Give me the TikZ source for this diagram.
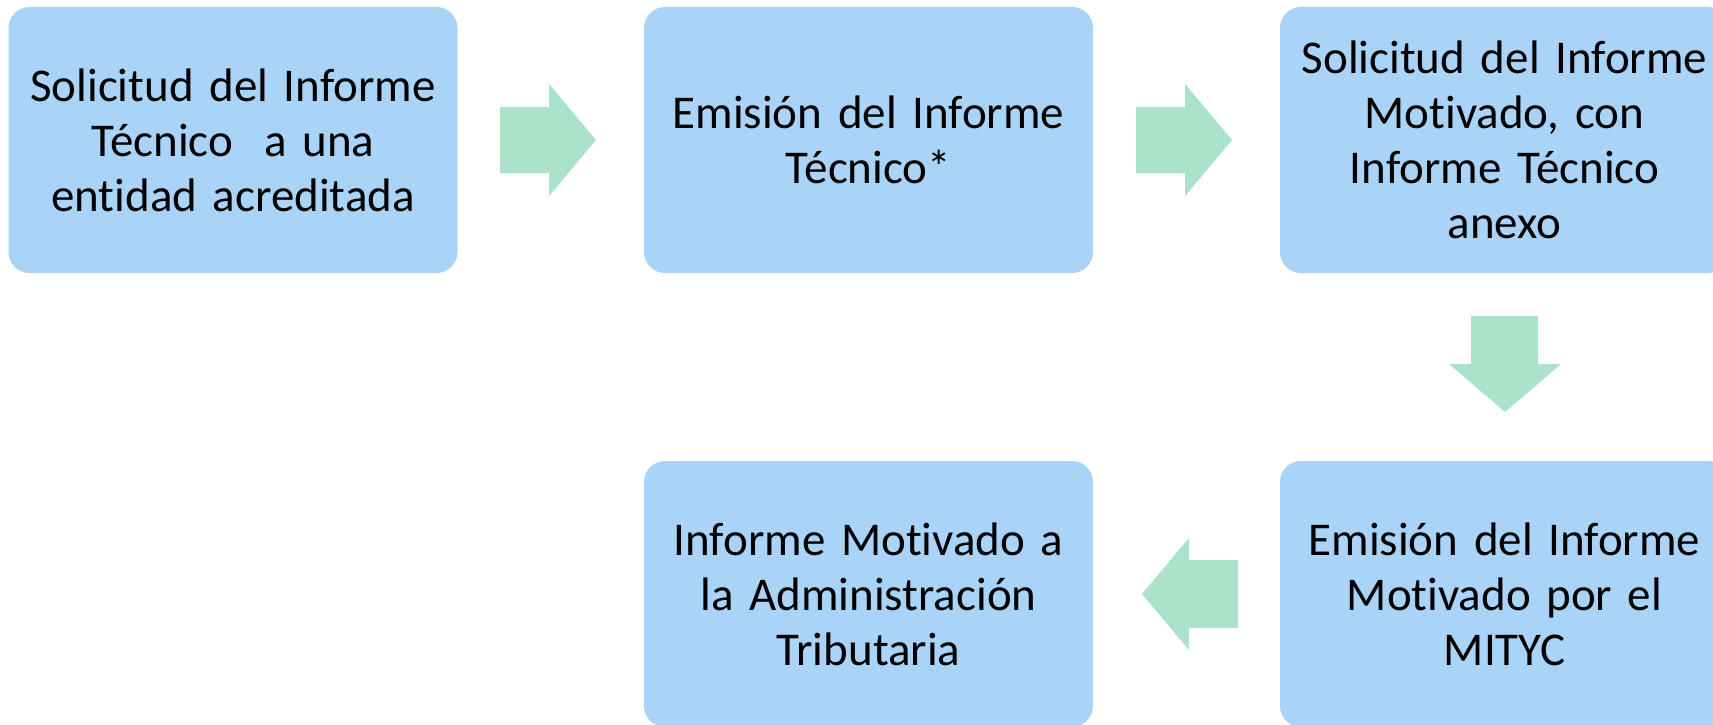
\documentclass[tikz,border=0pt]{standalone}
\usepackage{fontspec}
\setmainfont{Carlito}[Ligatures={NoCommon}]
\definecolor{boxblue}{RGB}{169,212,247}
\definecolor{arrowgreen}{RGB}{170,226,204}
\tikzset{
  stepbox/.style={fill=boxblue, draw=none, rounded corners=21pt, minimum width=449pt, minimum height=266pt, text width=420pt, align=center, inner sep=0pt, font=\fontsize{47}{55}\selectfont},
  blockarrow/.style={fill=arrowgreen, draw=none}
}
\begin{document}
\begin{tikzpicture}[x=1pt,y=-1pt]
\useasboundingbox (0,0) rectangle (1713,725);
\clip (0,0) rectangle (1713,725);
\fill[white] (0,0) rectangle (1713,725);
\node[stepbox] (b1) at (233,140) {Solicitud del Informe\\Técnico~ a una\\entidad acreditada};
\node[stepbox] (b2) at (868.5,140) {Emisión del Informe\\Técnico*};
\node[stepbox] (b3) at (1504.5,140) {Solicitud del Informe\\Motivado, con\\Informe Técnico\\anexo};
\node[stepbox] (b4) at (1504.5,594) {Emisión del Informe\\Motivado por el\\MITYC};
\node[stepbox] (b5) at (868.5,594) {Informe Motivado a\\la Administración\\Tributaria};
% block arrows
\fill[blockarrow] (500,107) -- (549,107) -- (549,84) -- (596,140) -- (549,196) -- (549,173) -- (500,173) -- cycle;
\fill[blockarrow] (1136,107) -- (1185,107) -- (1185,84) -- (1232,140) -- (1185,196) -- (1185,173) -- (1136,173) -- cycle;
\fill[blockarrow] (1471,316) -- (1538,316) -- (1538,364) -- (1561,364) -- (1505,412) -- (1449,364) -- (1471,364) -- cycle;
\fill[blockarrow] (1238,560) -- (1189,560) -- (1189,538) -- (1142,594) -- (1189,650) -- (1189,628) -- (1238,628) -- cycle;
\end{tikzpicture}
\end{document}
